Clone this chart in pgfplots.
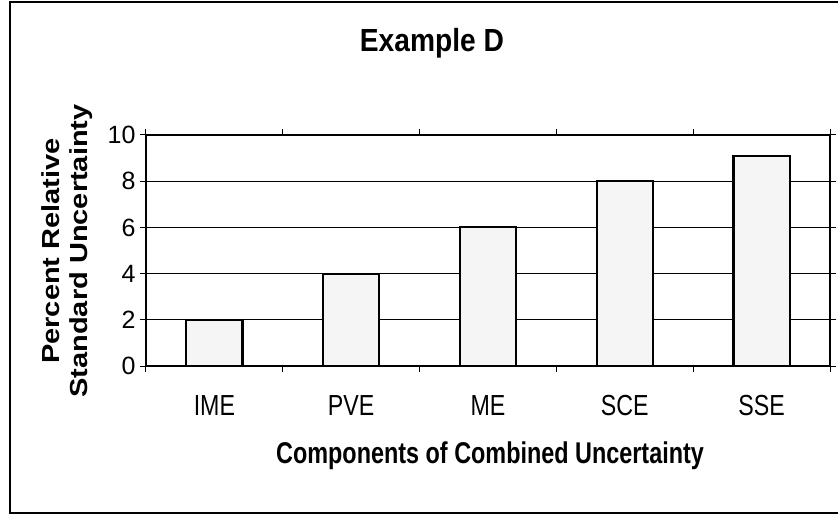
\documentclass[border=0pt]{standalone}
\usepackage{pgfplots}
\pgfplotsset{compat=1.18}
\usepackage{fontspec}
\setmainfont{Liberation Sans}
\begin{document}
\begin{tikzpicture}[x=1pt,y=1pt]
\useasboundingbox (-146,-148) rectangle (692,366);
\draw[line width=1.3pt] (700,364) -- (-136,364) -- (-136,-147) -- (700,-147);
\begin{axis}[
  at={(0,0)}, anchor=south west,
  scale only axis, width=684pt, height=231pt,
  xmin=-0.5, xmax=4.5, ymin=0, ymax=10,
  ytick={0,2,...,10},
  ymajorgrids, grid style={black, line width=1pt},
  xtick={-0.5,0.5,...,4.5}, xticklabels={},
  extra x ticks={0,1,2,3,4},
  extra x tick labels={IME,PVE,ME,SCE,SSE},
  extra x tick style={tick style={draw=none}},
  tick align=outside, major tick length=6pt,
  tick style={black, line width=1pt},
  axis line style={black, line width=1.2pt},
  /pgf/number format/assume math mode=true,
  yticklabel style={font=\fontsize{25}{28}\selectfont, xshift=-1pt},
  xticklabel style={font=\fontsize{29}{31}\selectfont, yshift=-20pt, xscale=0.8},
  title={\scalebox{0.88}[1]{\fontsize{32}{34}\selectfont\bfseries Example D}},
  title style={at={(axis description cs:0.418,1.37)}, anchor=center},
  xlabel={\scalebox{0.78}[1]{\fontsize{30}{32}\selectfont\bfseries Components of Combined Uncertainty}},
  xlabel style={at={(axis description cs:0.503,-0.39)}, anchor=center},
  ylabel={\scalebox{1}[0.85]{\fontsize{29}{33}\selectfont\bfseries\begin{tabular}{@{}c@{}}Percent Relative\\Standard Uncertainty\end{tabular}}},
  ylabel style={at={(axis description cs:-0.114,0.498)}, anchor=center},
  ybar, bar width=0.41, bar shift=0pt,
]
\addplot[draw=black, line width=2.2pt, fill=black!4] coordinates {(0,2) (1,4) (2,6) (3,8) (4,9.1)};
\end{axis}
\end{tikzpicture}
\end{document}
